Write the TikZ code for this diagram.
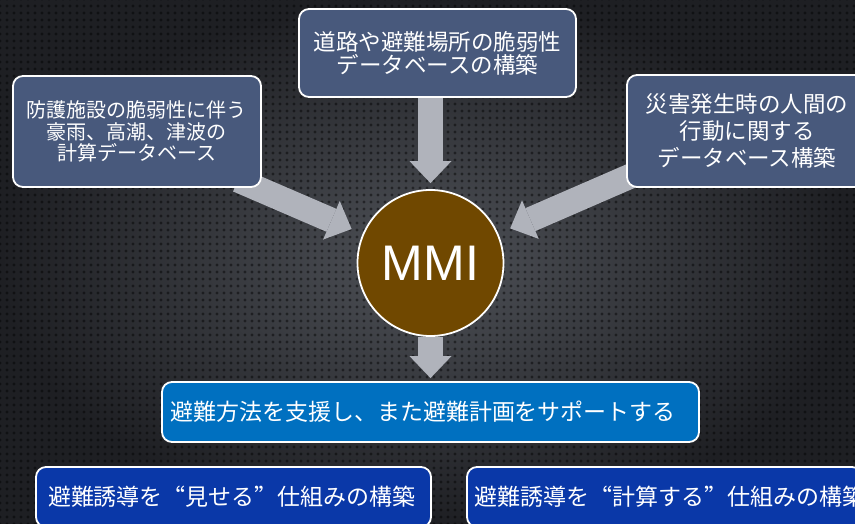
\documentclass[tikz,border=0pt]{standalone}
\usepackage{fontspec}
\newfontfamily\jp{Noto Sans CJK JP}
\newfontfamily\jpfw[RawFeature=+fwid]{Noto Sans CJK JP}
\newfontfamily\mmifont{Liberation Sans}
\newcommand\myLq{{\jpfw “}}
\newcommand\myRq{{\jpfw ”}}
\usetikzlibrary{arrows.meta,patterns.meta,calc}
\definecolor{slate}{RGB}{72,89,124}
\definecolor{mmibrown}{RGB}{112,72,0}
\definecolor{barblue}{RGB}{0,112,192}
\definecolor{deepblue}{RGB}{10,56,168}
\definecolor{arrowgray}{RGB}{176,179,187}
\definecolor{bgin}{RGB}{78,81,87}
\definecolor{bgout}{RGB}{30,31,35}
\tikzdeclarepattern{name=perf, type=uncolored,
  bounding box={(-3.5pt,-3.5pt) and (3.5pt,3.5pt)},
  tile size={(7pt,7pt)},
  code={\fill (0pt,0pt) circle (1.6pt);}}
\pgfdeclarelayer{back}
\pgfdeclarelayer{arrows}
\pgfsetlayers{back,arrows,main}
\tikzset{
  box/.style={draw=white, line width=1.8pt, rounded corners=10pt, text=white, align=center, inner sep=0pt},
  bigarrow/.style={draw=arrowgray, line width=25pt, -{Triangle[length=22pt,width=42pt,line width=0pt]}},
}
\begin{document}
\begin{tikzpicture}[x=1pt,y=-1pt]
\clip (0,0) rectangle (855,524);
\begin{pgfonlayer}{back}
\shade[inner color=bgin, outer color=bgout] (0,0) rectangle (855,524);
\fill[pattern=perf, pattern color=black, opacity=0.45] (0,0) rectangle (855,524);
\end{pgfonlayer}

\node[box, fill=slate, minimum width=248pt, minimum height=111pt,
  font={\jp\fontsize{20}{21.5}\selectfont}] (lbox) at (137,131.5)
  {防護施設の脆弱性に伴う\\豪雨、高潮、津波の\\計算データベース};
\node[box, fill=slate, minimum width=277pt, minimum height=88pt,
  font={\jp\fontsize{22.5}{23}\selectfont}] (tbox) at (437.5,53)
  {道路や避難場所の脆弱性\\データベースの構築};
\node[box, fill=slate, minimum width=240pt, minimum height=112pt,
  font={\jp\fontsize{22.5}{27}\selectfont}] (rbox) at (747,131)
  {災害発生時の人間の\\行動に関する\\データベース構築};
\node[circle, draw=white, line width=1.8pt, fill=mmibrown, minimum size=146pt,
  inner sep=0pt, text=white, font={\mmifont\fontsize{50}{52}\selectfont}] (mmi) at (430.5,263) {MMI};
\node[box, fill=barblue, text width=521pt, minimum height=60pt, inner xsep=8pt, align=left,
  font={\jp\fontsize{23}{25}\selectfont}] (bar) at (430.5,412)
  {避難方法を支援し、また避難計画をサポートする};
\node[box, fill=deepblue, text width=381pt, minimum height=60pt, inner xsep=7pt, align=left,
  font={\jp\fontsize{23}{25}\selectfont}] (bl) at (233.5,497)
  {\hspace*{5pt}避難誘導を\myLq 見せる\myRq 仕組みの構築};
\node[box, fill=deepblue, text width=381pt, minimum height=60pt, inner xsep=7pt, align=left,
  font={\jp\fontsize{23}{25}\selectfont}] (br) at (664.5,497)
  {避難誘導を\myLq 計算する\myRq 仕組みの構築};

\coordinate (la) at (238,180);
\coordinate (ra) at (640,172);
\begin{pgfonlayer}{arrows}
\draw[bigarrow, shorten >=12pt] (la) -- (mmi);
\draw[bigarrow, shorten >=13pt] (ra) -- (mmi);
\draw[bigarrow, shorten >=6pt] (tbox.south -| mmi.north) -- (mmi.north);
\draw[bigarrow, shorten >=3pt] (mmi.south) -- (bar.north);
\end{pgfonlayer}
\end{tikzpicture}
\end{document}
